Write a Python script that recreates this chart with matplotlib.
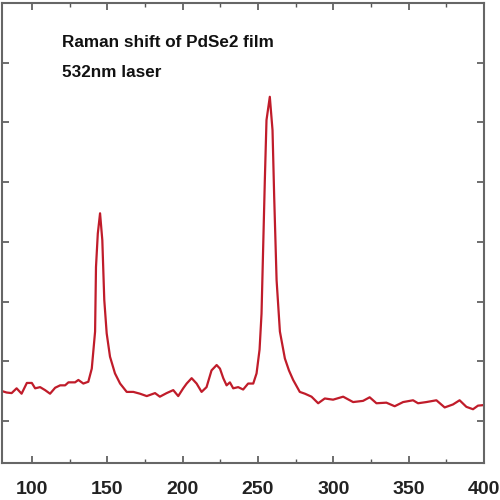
import matplotlib
matplotlib.use('Agg')
import matplotlib.pyplot as plt
from matplotlib.ticker import MultipleLocator, NullFormatter

# Raman spectrum (shift in cm-1, intensity in arbitrary units)
shift = [80.5, 83.0, 86.4, 89.7, 93.0, 96.5, 99.8, 102.0, 105.3, 108.6, 111.9,
         115.3, 118.6, 121.9, 124.1, 128.5, 130.7, 134.0, 137.3, 139.6, 141.8,
         142.4, 143.6, 145.1, 146.6, 147.9, 149.5, 151.7, 155.0, 158.4, 162.8,
         167.2, 171.6, 176.1, 181.6, 184.8, 189.3, 193.7, 197.0, 200.3, 202.6,
         205.9, 209.2, 212.5, 215.8, 219.1, 222.5, 224.7, 226.9, 229.1, 231.3,
         233.5, 236.8, 240.1, 243.4, 246.8, 249.0, 251.0, 252.3, 253.4, 254.5,
         255.6, 257.8, 259.6, 260.7, 262.3, 264.5, 267.8, 270.5, 273.3, 277.7,
         281.1, 285.5, 289.9, 294.3, 299.8, 306.5, 313.1, 319.7, 324.1, 328.6,
         335.2, 340.7, 346.3, 352.9, 356.2, 361.7, 368.4, 373.9, 379.4, 383.8,
         388.3, 392.7, 396.0, 400.0]
intensity = [0.50, 0.48, 0.47, 0.55, 0.46, 0.64, 0.64, 0.55, 0.57, 0.52, 0.46,
             0.56, 0.60, 0.60, 0.65, 0.65, 0.69, 0.63, 0.66, 0.88, 1.50,
             2.58, 3.14, 3.48, 3.03, 2.03, 1.47, 1.08, 0.80, 0.63, 0.49,
             0.49, 0.46, 0.42, 0.47, 0.41, 0.47, 0.52, 0.42, 0.55, 0.63,
             0.72, 0.63, 0.49, 0.57, 0.85, 0.94, 0.88, 0.72, 0.60, 0.65,
             0.55, 0.57, 0.53, 0.63, 0.63, 0.80, 1.20, 1.80, 2.92, 4.04,
             5.04, 5.43, 4.87, 3.76, 2.36, 1.50, 1.05, 0.85, 0.69, 0.49,
             0.46, 0.41, 0.30, 0.38, 0.36, 0.41, 0.32, 0.34, 0.40, 0.30,
             0.31, 0.25, 0.32, 0.35, 0.30, 0.32, 0.35, 0.23, 0.28, 0.35,
             0.24, 0.20, 0.26, 0.27]

x_ticks = [100, 150, 200, 250, 300, 350, 400]
note_lines = ['Raman shift of PdSe2 film', '532nm laser']

plt.rcParams['font.family'] = ['Liberation Sans', 'DejaVu Sans']

fig = plt.figure(figsize=(5, 5), dpi=100)
ax = fig.add_axes([0.004, 0.074, 0.964, 0.92])

ax.plot(shift, intensity, color='#c01c2a', lw=1.6)

ax.set_xlim(80, 400)
ax.set_ylim(-0.7, 7.0)
ax.set_xticks(x_ticks)
ax.xaxis.set_minor_locator(MultipleLocator(25))
ax.yaxis.set_major_locator(MultipleLocator(1))
ax.yaxis.set_major_formatter(NullFormatter())
ax.tick_params(which='both', direction='in', top=True, right=True,
               color='#555555', labelsize=14, pad=13)
ax.tick_params(which='major', length=5, width=1.2)
ax.tick_params(which='minor', length=3, width=1.0)
for lab in ax.get_xticklabels():
    lab.set_fontweight('bold')
    lab.set_color('#222222')
for sp in ax.spines.values():
    sp.set_color('#666666')
    sp.set_linewidth(1.5)

ax.text(0.125, 0.914, note_lines[0], transform=ax.transAxes,
        fontsize=12.3, fontweight='bold', va='center', color='#111111')
ax.text(0.125, 0.849, note_lines[1], transform=ax.transAxes,
        fontsize=12.3, fontweight='bold', va='center', color='#111111')

fig.savefig('out.png', dpi=100)
